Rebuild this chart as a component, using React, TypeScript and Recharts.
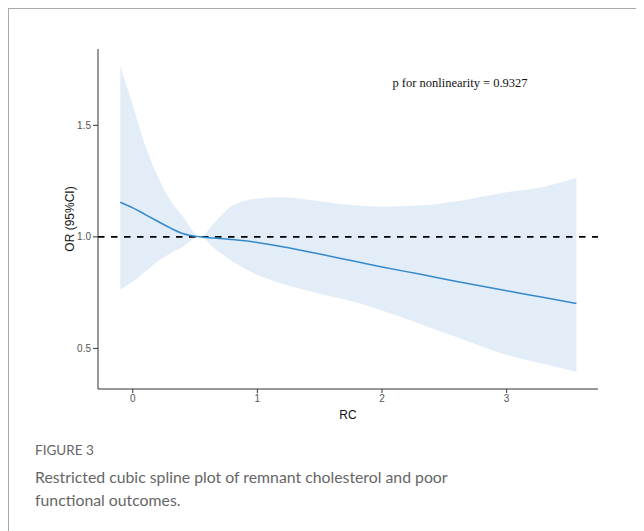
import React from "react";
import {
    ComposedChart,
    Area,
    Line,
    XAxis,
    YAxis,
    ReferenceLine,
} from "recharts";

// RC values along the spline
const rcValues = [-0.1, 0, 0.1, 0.2, 0.3, 0.4, 0.54, 0.65, 0.8, 1.0, 1.2, 1.5, 1.8, 2.0, 2.3, 2.6, 3.0, 3.3, 3.56];
// odds ratio estimate
const orValues = [1.155, 1.13, 1.1, 1.07, 1.04, 1.015, 1.0, 0.995, 0.988, 0.975, 0.956, 0.923, 0.888, 0.865, 0.833, 0.8, 0.758, 0.728, 0.701];
// 95% CI bounds
const lowerCI = [0.764, 0.8, 0.845, 0.89, 0.925, 0.955, 1.0, 0.95, 0.89, 0.83, 0.79, 0.745, 0.705, 0.67, 0.61, 0.55, 0.47, 0.43, 0.395];
const upperCI = [1.766, 1.59, 1.41, 1.27, 1.165, 1.093, 1.0, 1.06, 1.14, 1.172, 1.178, 1.16, 1.14, 1.135, 1.14, 1.16, 1.2, 1.225, 1.265];

const xTicks = [0, 1, 2, 3];
const yTicks = [0.5, 1.0, 1.5];

const chartData = rcValues.map((x, i) => ({
    rc: x,
    or: orValues[i],
    ci: [lowerCI[i], upperCI[i]],
}));

const tickStyle = { fontFamily: "'Liberation Sans', Arial, sans-serif", fontSize: 10, fill: "#555" };
const titleStyle = { fontFamily: "'Liberation Sans', Arial, sans-serif", fontSize: 12, fill: "#111" };

export default function App() {
    return (
        <div style={{ position: "relative", width: 636, height: 523, overflow: "hidden", background: "#fff" }}>
            {/* frame around the figure */}
            <div style={{ position: "absolute", left: 0, top: 0, width: 700, height: 600, borderTop: "1px solid #aaa", borderLeft: "1px solid #aaa" }} />

            <div style={{ position: "absolute", left: 0, top: 0 }}>
                <ComposedChart
                    width={620}
                    height={430}
                    data={chartData}
                    margin={{ top: 41, right: 30, bottom: 19, left: 0 }}
                >
                    <XAxis
                        dataKey="rc"
                        type="number"
                        domain={[-0.279, 3.733]}
                        ticks={xTicks}
                        allowDataOverflow={true}
                        height={30}
                        tickSize={4}
                        stroke="#333"
                        tick={tickStyle}
                        label={{ value: "RC", position: "insideBottom", offset: 0, style: titleStyle }}
                    />
                    <YAxis
                        type="number"
                        domain={[0.318, 1.842]}
                        ticks={yTicks}
                        allowDataOverflow={true}
                        width={90}
                        tickSize={5}
                        stroke="#333"
                        tick={tickStyle}
                        tickFormatter={(v) => v.toFixed(1)}
                        label={{ value: "OR (95%CI)", angle: -90, position: "insideLeft", offset: 62, style: { ...titleStyle, textAnchor: "middle" } }}
                    />
                    <Area
                        type="monotone"
                        dataKey="ci"
                        stroke="none"
                        fill="#e3edf7"
                        fillOpacity={1}
                        isAnimationActive={false}
                    />
                    <ReferenceLine y={1} stroke="#000" strokeWidth={1.8} strokeDasharray="6.5 6.5" />
                    <Line
                        type="monotone"
                        dataKey="or"
                        stroke="#3389cc"
                        strokeWidth={1.5}
                        dot={false}
                        isAnimationActive={false}
                    />
                </ComposedChart>
            </div>

            <div style={{ position: "absolute", left: 382, top: 68, width: 140, textAlign: "center", fontFamily: "'Liberation Serif', 'Times New Roman', serif", fontSize: 12.5, color: "#111", whiteSpace: "nowrap" }}>
                p for nonlinearity = 0.9327
            </div>

            <div style={{ position: "absolute", left: 27, top: 433, fontFamily: "Lato, 'Open Sans', sans-serif", color: "#666" }}>
                <div style={{ fontSize: 13.5, lineHeight: "18px" }}>FIGURE 3</div>
                <div style={{ fontSize: 15.8, lineHeight: "23px", marginTop: 6, width: 560 }}>
                    Restricted cubic spline plot of remnant cholesterol and poor
                    <br />
                    functional outcomes.
                </div>
            </div>
        </div>
    );
}
